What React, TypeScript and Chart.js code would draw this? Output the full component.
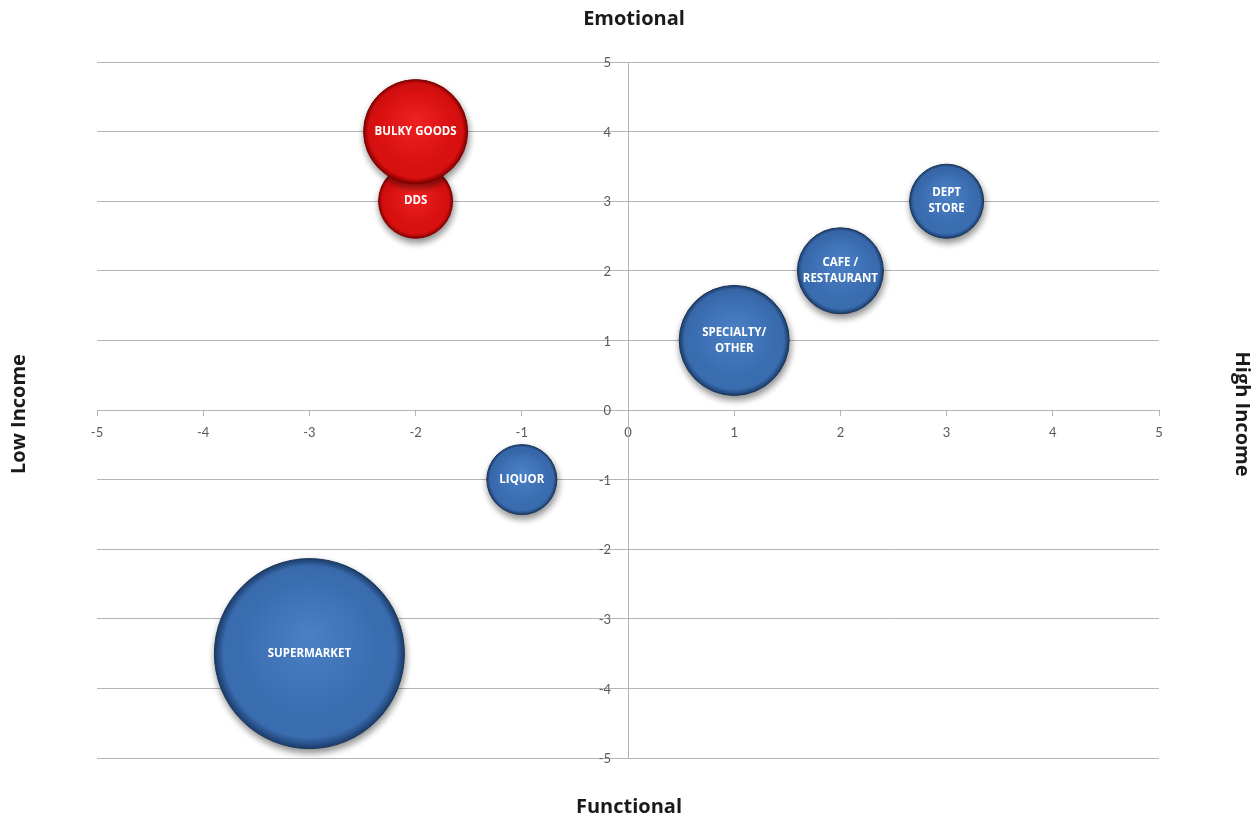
import { useEffect, useRef } from 'react';
import { Chart, registerables } from 'chart.js';

Chart.register(...registerables);

// Store formats positioned by customer income (x) and purchase motivation (y)
const redStores = ['DDS', 'BULKY GOODS'];
const redIncome = [-2, -2];
const redEmotion = [3, 4];
const redSize = [37, 52];

const blueStores = ['SUPERMARKET', 'LIQUOR', 'SPECIALTY/\nOTHER', 'CAFE /\nRESTAURANT', 'DEPT\nSTORE'];
const blueIncome = [-3, -1, 1, 2, 3];
const blueEmotion = [-3.5, -1, 1, 2, 3];
const blueSize = [95, 35, 55, 43, 37];

const axisMin = -5;
const axisMax = 5;

const axisTitles = { top: 'Emotional', bottom: 'Functional', left: 'Low Income', right: 'High Income' };

const W = 1258;
const H = 820;

const tickColor = '#595959';
const tickFontCss = '13px Lato, "Open Sans", sans-serif';

function points(xs: number[], ys: number[], rs: number[], names: string[]) {
  return xs.map((x, i) => ({ x, y: ys[i], r: rs[i], name: names[i] }));
}

// Shaded bubble fill: lighter centre falling off to a dark rim
function shaded(light: string, mid: string, rim: string) {
  return (ctx: any) => {
    const chart = ctx.chart;
    const raw = ctx.raw;
    if (!raw || !chart.scales || !chart.scales.x || !chart.scales.y) return mid;
    const cx = chart.scales.x.getPixelForValue(raw.x);
    const cy = chart.scales.y.getPixelForValue(raw.y);
    const r = raw.r;
    if (![cx, cy, r].every((v) => Number.isFinite(v))) return mid;
    const g = chart.ctx.createRadialGradient(cx, cy - r * 0.2, r * 0.05, cx, cy, r);
    g.addColorStop(0, light);
    g.addColorStop(0.72, mid);
    g.addColorStop(0.9, mid);
    g.addColorStop(1, rim);
    return g;
  };
}

const bubbleShadow = {
  id: 'bubbleShadow',
  beforeDatasetsDraw(chart: any) {
    const c = chart.ctx;
    c.save();
    c.shadowColor = 'rgba(0,0,0,0.45)';
    c.shadowBlur = 7;
    c.shadowOffsetX = 1;
    c.shadowOffsetY = 4;
  },
  afterDatasetsDraw(chart: any) {
    chart.ctx.restore();
  },
};

// Value labels for the vertical axis, set off to the left of the centre line
const yTickLabels = {
  id: 'yTickLabels',
  afterDraw(chart: any) {
    const ys = chart.scales.y;
    const axisX = chart.scales.x.getPixelForValue(0);
    const c = chart.ctx;
    c.save();
    c.fillStyle = tickColor;
    c.font = tickFontCss;
    c.textAlign = 'right';
    c.textBaseline = 'middle';
    ys.ticks.forEach((t: any) => {
      c.fillText(String(t.value), axisX - 17, ys.getPixelForValue(t.value) + 1);
    });
    c.restore();
  },
};

const bubbleLabels = {
  id: 'bubbleLabels',
  afterDraw(chart: any) {
    const c = chart.ctx;
    c.save();
    c.fillStyle = '#ffffff';
    c.font = 'bold 11.5px "Open Sans", sans-serif';
    c.textAlign = 'center';
    c.textBaseline = 'middle';
    chart.data.datasets.forEach((ds: any, di: number) => {
      const meta = chart.getDatasetMeta(di);
      meta.data.forEach((el: any, i: number) => {
        const lines = String(ds.data[i].name).split('\n');
        const lh = 16;
        const start = el.y - ((lines.length - 1) * lh) / 2;
        lines.forEach((line: string, k: number) => c.fillText(line, el.x, start + k * lh));
      });
    });
    c.restore();
  },
};

const quadrantTitles = {
  id: 'quadrantTitles',
  afterDraw(chart: any) {
    const c = chart.ctx;
    c.save();
    c.fillStyle = '#1a1a1a';
    c.font = 'bold 20px "Open Sans", sans-serif';
    c.textAlign = 'center';
    c.textBaseline = 'middle';
    c.fillText(axisTitles.top, 634, 19);
    c.fillText(axisTitles.bottom, 629, 807);
    c.save();
    c.translate(19, 414);
    c.rotate(-Math.PI / 2);
    c.fillText(axisTitles.left, 0, 0);
    c.restore();
    c.save();
    c.translate(1242, 414);
    c.rotate(Math.PI / 2);
    c.fillText(axisTitles.right, 0, 0);
    c.restore();
    c.restore();
  },
};

export default function App() {
  const ref = useRef<HTMLCanvasElement | null>(null);

  useEffect(() => {
    if (!ref.current) return;
    const gridColor = '#b4b4b4';
    const tickFont = { family: 'Lato, "Open Sans", sans-serif', size: 13 };
    const chart = new Chart(ref.current, {
      type: 'bubble',
      data: {
        datasets: [
          {
            label: 'Low income formats',
            data: points(redIncome, redEmotion, redSize, redStores),
            backgroundColor: shaded('#ee2020', '#d81010', '#8c0000'),
            borderColor: '#7a0000',
            borderWidth: 1,
          },
          {
            label: 'Other formats',
            data: points(blueIncome, blueEmotion, blueSize, blueStores),
            backgroundColor: shaded('#4a7fc4', '#3a6cb0', '#1c3f6e'),
            borderColor: '#1a3558',
            borderWidth: 1,
          },
        ],
      },
      options: {
        responsive: false,
        animation: false,
        layout: { autoPadding: false, padding: { left: 97, right: 99, top: 62, bottom: 62 } },
        plugins: {
          legend: { display: false },
          tooltip: { enabled: false },
        },
        scales: {
          x: {
            type: 'linear',
            position: { y: 0 },
            min: axisMin,
            max: axisMax,
            ticks: { stepSize: 1, color: tickColor, font: tickFont, padding: 10 },
            grid: { drawOnChartArea: false, drawTicks: true, tickLength: 5, color: gridColor },
            border: { color: gridColor },
          },
          y: {
            type: 'linear',
            position: { x: 0 },
            min: axisMin,
            max: axisMax,
            ticks: { stepSize: 1, display: false },
            grid: { color: gridColor, drawTicks: false },
            border: { color: gridColor },
          },
        },
      },
      plugins: [bubbleShadow, yTickLabels, bubbleLabels, quadrantTitles],
    });
    return () => chart.destroy();
  }, []);

  return (
    <div style={{ position: 'fixed', left: 0, top: 0, width: W, height: H, background: '#ffffff' }}>
      <canvas ref={ref} width={W} height={H} style={{ display: 'block' }} />
    </div>
  );
}
